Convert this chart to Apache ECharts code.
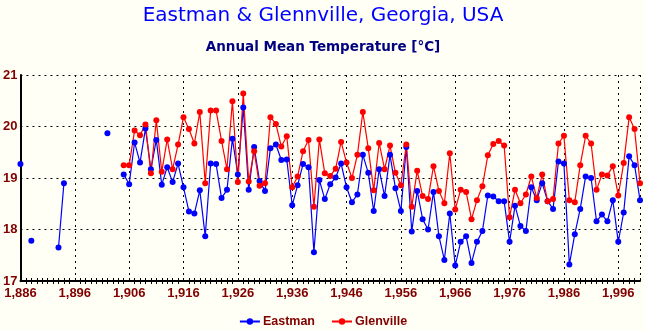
<!DOCTYPE html>
<html><head><meta charset="utf-8">
<script src="https://cdn.jsdelivr.net/npm/echarts@6/dist/echarts.min.js"></script>
<style>html,body{margin:0;padding:0;background:#fffff6;}#c{width:646px;height:330px;}</style>
</head><body><div id="c"></div>
<script>
var titleText = "Eastman & Glennville, Georgia, USA";
var subtitleText = "Annual Mean Temperature [°C]";
var seriesNames = ["Eastman", "Glenville"];
var eastmanStart = 1886;
var eastmanTemps = [
19.27,null,17.78,null,null,null,null,17.65,18.90,null,
null,null,null,null,null,null,19.87,null,null,19.07,
18.88,19.69,19.30,19.96,19.17,19.74,18.87,19.21,18.92,19.28,
18.82,18.35,18.31,18.76,17.87,19.28,19.27,18.61,18.77,19.76,
19.07,20.37,18.77,19.60,18.94,18.75,19.58,19.65,19.35,19.36,
18.47,18.86,19.27,19.21,17.56,18.96,18.59,18.88,19.01,19.28,
18.82,18.53,18.68,19.45,19.10,18.36,19.17,18.65,19.45,18.80,
18.36,19.60,17.96,18.75,18.20,18.00,18.73,17.87,17.41,18.31,
17.30,17.76,17.87,17.35,17.76,17.97,18.66,18.64,18.55,18.55,
17.76,18.46,18.07,17.97,18.82,18.57,18.90,18.55,18.40,19.32,
19.28,17.32,17.91,18.40,19.03,19.00,18.16,18.29,18.16,18.57,
17.76,18.33,19.42,19.25,18.57
];
var glenvilleStart = 1905;
var glenvilleTemps = [
19.25,19.25,19.92,19.83,20.04,19.09,20.12,19.12,19.75,19.17,
19.65,20.18,19.95,19.67,20.28,18.90,20.31,20.31,19.72,19.17,
20.49,18.92,20.64,18.93,19.52,18.85,18.90,20.18,20.05,19.61,
19.81,18.82,19.03,19.52,19.74,18.44,19.75,19.09,19.04,19.18,
19.70,19.30,19.00,19.45,20.28,19.58,18.76,19.68,19.17,19.63,
19.10,18.86,19.65,18.44,19.14,18.65,18.59,19.23,18.75,18.51,
19.48,18.39,18.77,18.73,18.20,18.57,18.84,19.44,19.66,19.72,
19.63,18.24,18.77,18.51,18.68,19.03,18.61,19.07,18.55,18.59,
19.67,19.82,18.57,18.53,19.25,19.82,19.67,18.77,19.07,19.05,
19.23,18.66,19.29,20.18,19.95,18.90
];
var xMin = 1886, xMax = 2000, xStep = 10;
var yMin = 17, yMax = 21, yStep = 1;

function pairs(start, vals){ return vals.map(function(v,i){ return [start+i, v]; }); }

var labelStyle = {color:'#800000', fontWeight:'bold', fontSize:13, fontFamily:'Liberation Sans, Arial, sans-serif'};
var chart = echarts.init(document.getElementById('c'), null, {renderer:'canvas'});
chart.setOption({
  backgroundColor:'#fffff6',
  animation:false,
  title:[
    {text:titleText, left:'center', top:1, textStyle:{color:'#0000ff', fontSize:20, fontWeight:'normal', fontFamily:'DejaVu Sans, sans-serif'}},
    {text:subtitleText, left:'center', top:35, textStyle:{color:'#000080', fontSize:13.5, fontWeight:'bold', fontFamily:'DejaVu Sans, sans-serif'}}
  ],
  legend:{top:310, left:'center', itemGap:16, itemWidth:20, itemHeight:8,
    textStyle:{color:'#800000', fontWeight:'bold', fontSize:12.5, fontFamily:'Liberation Sans, Arial, sans-serif', padding:[0,0,0,-2]},
    data:seriesNames},
  grid:{left:18, right:6, top:75, bottom:49, containLabel:false},
  xAxis:[{
    type:'value', min:xMin, max:xMax, interval:xStep,
    axisLine:{show:true, onZero:false, lineStyle:{color:'#000', width:2}},
    axisTick:{show:false},
    minorTick:{show:true, splitNumber:10, length:3, lineStyle:{color:'#000', width:1}},
    axisLabel:Object.assign({margin:6, showMaxLabel:false}, labelStyle),
    splitLine:{show:true, lineStyle:{color:'#000', type:[2,4], width:1}}
  },{
    type:'value', min:xMin, max:xMax, interval:xStep, position:'bottom',
    axisLine:{show:false},
    axisTick:{show:true, inside:true, length:3, lineStyle:{color:'#000'}},
    minorTick:{show:true, splitNumber:10, length:3, lineStyle:{color:'#000', width:1}},
    axisLabel:{show:false}, splitLine:{show:false}
  }],
  yAxis:{
    type:'value', min:yMin, max:yMax, interval:yStep,
    axisLine:{show:true, lineStyle:{color:'#000', width:2}},
    axisTick:{show:false},
    axisLabel:Object.assign({margin:3}, labelStyle),
    splitLine:{show:true, lineStyle:{color:'#000', type:[2,4], width:1}}
  },
  series:[
    {name:seriesNames[0], type:'line', data:pairs(eastmanStart, eastmanTemps), connectNulls:false,
     symbol:'circle', symbolSize:6, showAllSymbol:true, color:'#0000ff', lineStyle:{width:1.2, color:'#0000ff'}, itemStyle:{color:'#0000ff'}},
    {name:seriesNames[1], type:'line', data:pairs(glenvilleStart, glenvilleTemps), connectNulls:false,
     symbol:'circle', symbolSize:6, showAllSymbol:true, color:'#ff0000', lineStyle:{width:1.2, color:'#ff0000'}, itemStyle:{color:'#ff0000'}}
  ]
});
</script></body></html>
